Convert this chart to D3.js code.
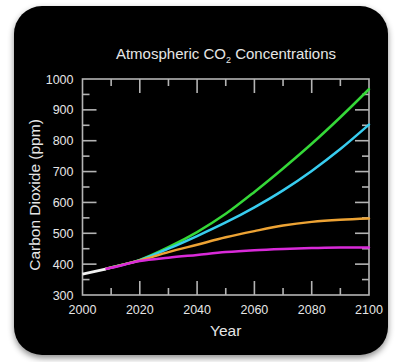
<!DOCTYPE html>
<html>
<head>
<meta charset="utf-8">
<script src="https://cdn.jsdelivr.net/npm/d3@7"></script>
<style>
  html, body { margin: 0; padding: 0; background: #ffffff; }
  svg { display: block; }
  text { font-family: "Liberation Sans", Arial, sans-serif; fill: #e6e6e6; }
</style>
</head>
<body>
<svg id="chart" width="395" height="362"></svg>
<script>
// Observed concentration (ppm)
const histYears = [2000, 2004, 2008];
const histValues = [368, 376, 384];

// Scenario projections (ppm)
const projYears = [2008, 2010, 2020, 2030, 2040, 2050, 2060, 2070, 2080, 2090, 2100];
const greenValues   = [384, 389, 414, 455, 504, 563, 634, 710, 790, 876, 967];
const cyanValues    = [384, 389, 413, 450, 491, 535, 584, 639, 702, 773, 852];
const orangeValues  = [384, 389, 412, 439, 463, 487, 507, 525, 537, 544, 548];
const magentaValues = [384, 388, 410, 421, 430, 439, 445, 449, 452, 454, 454];

const seriesColors = ["#35d838", "#38cdf0", "#eda334", "#d92ad9"];

const xTicks = [2000, 2020, 2040, 2060, 2080, 2100];
const yTicks = [300, 400, 500, 600, 700, 800, 900, 1000];

const svg = d3.select("#chart");

// drop shadow for the dark panel
const defs = svg.append("defs");
const f = defs.append("filter").attr("id", "shadow")
  .attr("x", "-10%").attr("y", "-10%").attr("width", "120%").attr("height", "125%");
f.append("feDropShadow").attr("dx", 0).attr("dy", 3).attr("stdDeviation", 3)
  .attr("flood-color", "#000").attr("flood-opacity", 0.45);

svg.append("rect")
  .attr("x", 14).attr("y", 6).attr("width", 374).attr("height", 349)
  .attr("rx", 28).attr("ry", 28)
  .attr("fill", "#000").attr("filter", "url(#shadow)");

const margin = { left: 82.5, right: 369, top: 79, bottom: 295 };
const x = d3.scaleLinear().domain([2000, 2100]).range([margin.left, margin.right]);
const y = d3.scaleLinear().domain([300, 1000]).range([margin.bottom, margin.top]);

const axisColor = "#b4b4b4";
const g = svg.append("g");

// frame
g.append("rect")
  .attr("x", margin.left).attr("y", margin.top)
  .attr("width", margin.right - margin.left).attr("height", margin.bottom - margin.top)
  .attr("fill", "none").attr("stroke", axisColor).attr("stroke-width", 1.6);

// inward ticks on all four sides
const majorLen = 14, minorLen = 7;
const xTickVals = d3.range(2010, 2100, 10);
xTickVals.forEach(v => {
  const len = (v % 20 === 0) ? majorLen : minorLen;
  g.append("line").attr("x1", x(v)).attr("x2", x(v))
    .attr("y1", margin.bottom).attr("y2", margin.bottom - len)
    .attr("stroke", axisColor).attr("stroke-width", 1.6);
  g.append("line").attr("x1", x(v)).attr("x2", x(v))
    .attr("y1", margin.top).attr("y2", margin.top + len)
    .attr("stroke", axisColor).attr("stroke-width", 1.6);
});
const yTickVals = d3.range(350, 1000, 50);
yTickVals.forEach(v => {
  const len = (v % 100 === 0) ? majorLen : minorLen;
  g.append("line").attr("y1", y(v)).attr("y2", y(v))
    .attr("x1", margin.left).attr("x2", margin.left + len)
    .attr("stroke", axisColor).attr("stroke-width", 1.6);
  g.append("line").attr("y1", y(v)).attr("y2", y(v))
    .attr("x1", margin.right).attr("x2", margin.right - len)
    .attr("stroke", axisColor).attr("stroke-width", 1.6);
});

// tick labels
svg.append("g").selectAll("text").data(xTicks).join("text")
  .attr("x", d => x(d)).attr("y", margin.bottom + 19)
  .attr("text-anchor", "middle").attr("font-size", 12.5)
  .text(d => d);
svg.append("g").selectAll("text").data(yTicks).join("text")
  .attr("x", margin.left - 9).attr("y", d => y(d) + 4.5)
  .attr("text-anchor", "end").attr("font-size", 12.5)
  .text(d => d);

// scenario curves
const line = d3.line().curve(d3.curveMonotoneX).x(d => x(d[0])).y(d => y(d[1]));
const scenarios = [greenValues, cyanValues, orangeValues, magentaValues];
scenarios.forEach((vals, i) => {
  svg.append("path")
    .datum(projYears.map((yr, j) => [yr, vals[j]]))
    .attr("d", line)
    .attr("fill", "none")
    .attr("stroke", seriesColors[i])
    .attr("stroke-width", 2.5)
    .attr("stroke-linecap", "round");
});

// observed record
svg.append("path")
  .datum(histYears.map((yr, j) => [yr, histValues[j]]))
  .attr("d", line)
  .attr("fill", "none").attr("stroke", "#f2f2f2").attr("stroke-width", 2.8);

// titles
const title = svg.append("text")
  .attr("x", 226).attr("y", 59).attr("text-anchor", "middle").attr("font-size", 15);
title.append("tspan").text("Atmospheric CO");
title.append("tspan").attr("font-size", 9).attr("dy", 4).text("2");
title.append("tspan").attr("dy", -4).text(" Concentrations");

svg.append("text")
  .attr("x", (margin.left + margin.right) / 2).attr("y", 336)
  .attr("text-anchor", "middle").attr("font-size", 15.5)
  .text("Year");

svg.append("text")
  .attr("transform", "translate(40,195) rotate(-90)")
  .attr("text-anchor", "middle").attr("font-size", 15.5)
  .text("Carbon Dioxide (ppm)");
</script>
</body>
</html>
